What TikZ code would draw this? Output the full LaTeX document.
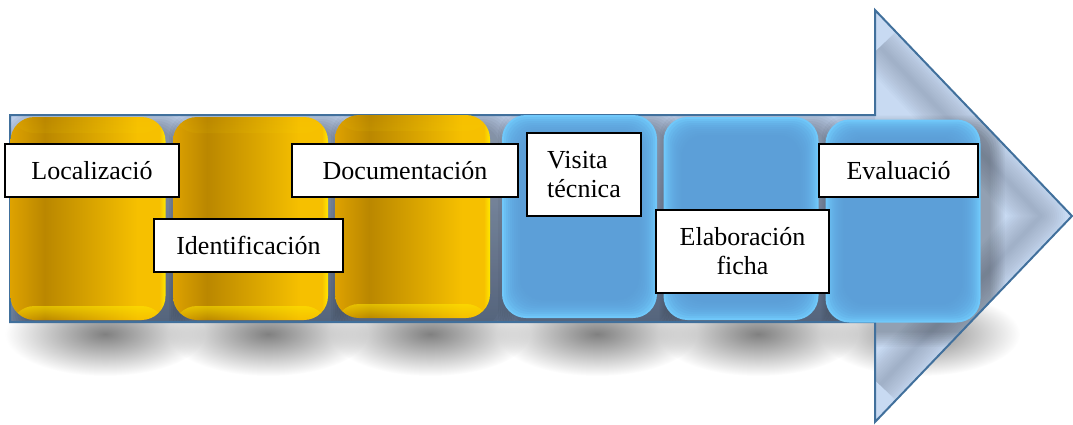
\documentclass[tikz,border=0pt]{standalone}
\usepackage{fontspec}
\setmainfont{Liberation Serif}
\usetikzlibrary{fadings}

\definecolor{arrowline}{RGB}{65,112,156}
\definecolor{arrowfill}{RGB}{200,218,242}
\definecolor{shafttop}{RGB}{188,206,234}
\definecolor{shaftdark}{RGB}{118,138,170}
\definecolor{bevelgray}{RGB}{95,105,125}
\definecolor{goldedge}{RGB}{222,162,0}
\definecolor{golddark}{RGB}{186,135,0}
\definecolor{goldlight}{RGB}{246,192,0}
\definecolor{goldhigh}{RGB}{255,232,0}
\definecolor{bluebase}{RGB}{91,155,213}
\definecolor{blueedge}{RGB}{112,200,250}

\pgfdeclarehorizontalshading{goldshade}{100bp}{color(0bp)=(goldedge); color(25bp)=(goldedge);
  color(36bp)=(golddark); color(66bp)=(goldlight); color(73bp)=(goldlight);
  color(75bp)=(goldhigh); color(100bp)=(goldhigh)}
\tikzfading[name=softspot, inner color=transparent!0, outer color=transparent!100]

\tikzset{
  stepbox/.style={rounded corners=24pt, minimum width=155pt, minimum height=203pt, inner sep=0pt},
  goldbox/.style={stepbox, shading=goldshade, path picture={
      \fill[goldhigh, path fading=north] (path picture bounding box.north west)
        rectangle ([yshift=-16pt]path picture bounding box.north east);
      \fill[goldhigh, opacity=0.55, path fading=south] (path picture bounding box.south west)
        rectangle ([yshift=14pt]path picture bounding box.south east);
    }},
  bluebox/.style={stepbox, fill=blueedge, path picture={
      \foreach \i in {2,4,...,18}
        \fill[bluebase, opacity=0.2, rounded corners=22pt]
          ([xshift=\i pt, yshift=-\i pt]path picture bounding box.north west)
          rectangle ([xshift=-\i pt, yshift=\i pt]path picture bounding box.south east);
    }},
  tagbox/.style={draw=black, line width=1.2pt, fill=white, inner sep=0pt,
    font=\fontsize{26}{29}\selectfont, align=center}
}

\begin{document}
\begin{tikzpicture}[x=1pt,y=-1pt]
  \useasboundingbox (0,0) rectangle (1073,424);

  % sombras sobre el papel
  \foreach \cx in {105,268,430,597,758,920}
    \fill[black!50, path fading=softspot] (\cx,334) ellipse (100 and 42);

  % flecha
  \fill[arrowfill] (10,115) -- (875,115) -- (875,10) -- (1072,216) -- (875,422) -- (875,322) -- (10,322) -- cycle;
  \fill[top color=shafttop, bottom color=shaftdark] (10,115) rectangle (875,322);
  \begin{scope}
    \clip (875,10) -- (1072,216) -- (875,422) -- cycle;
    \foreach \w in {4,8,...,48}
      \draw[bevelgray, line width=\w pt, opacity=0.03, line join=round] (880,47) -- (1041,216) -- (880,385);
  \end{scope}

  % sombras de las cajas
  \begin{scope}
    \clip (10,115) -- (875,115) -- (875,10) -- (1072,216) -- (875,422) -- (875,322) -- (10,322) -- cycle;
    \foreach \cx/\cy in {88/218.5,250.5/218.5,412.5/216.5,579.5/216.5,741/218.5,903/221}
      \foreach \i in {0,2,...,14}
        \fill[black, opacity=0.035, rounded corners=24pt]
          ({\cx-67.5-\i},{\cy-91.5-\i}) rectangle ({\cx+87.5+\i},{\cy+111.5+\i});
  \end{scope}

  \draw[arrowline, line width=2pt] (10,115) -- (875,115) -- (875,10) -- (1072,216) -- (875,422) -- (875,322) -- (10,322) -- cycle;

  % cajas
  \node[goldbox] (caja1) at (88,218.5) {};
  \node[goldbox] (caja2) at (250.5,218.5) {};
  \node[goldbox] (caja3) at (412.5,216.5) {};
  \node[bluebox] (caja4) at (579.5,216.5) {};
  \node[bluebox] (caja5) at (741,218.5) {};
  \node[bluebox] (caja6) at (903,221) {};

  % etiquetas
  \node[tagbox, minimum width=174pt, minimum height=53pt] (loc) at (92,170.5) {Localizació};
  \node[tagbox, minimum width=189pt, minimum height=53pt] (ident) at (248.5,245.5) {Identificación};
  \node[tagbox, minimum width=226pt, minimum height=53pt] (docu) at (405,170.5) {Documentación};
  \node[tagbox, minimum width=114pt, minimum height=83pt, align=left] (visita) at (584,174.5) {Visita\\técnica};
  \node[tagbox, minimum width=173pt, minimum height=83pt] (elab) at (742.5,251.5) {Elaboración\\ficha};
  \node[tagbox, minimum width=159pt, minimum height=53pt] (eval) at (898.5,170.5) {Evaluació};
\end{tikzpicture}
\end{document}
